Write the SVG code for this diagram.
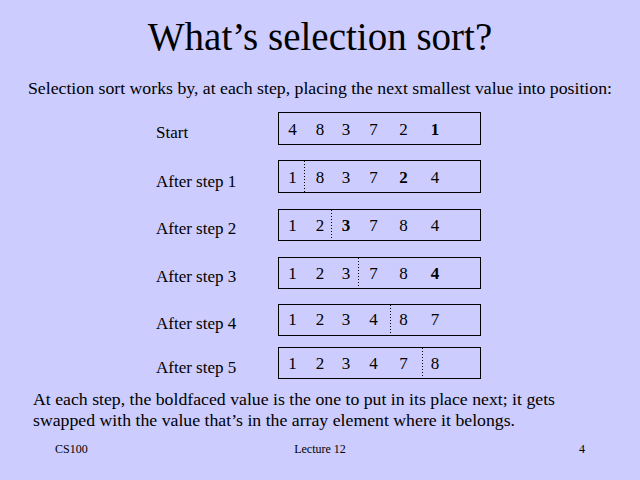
<svg xmlns="http://www.w3.org/2000/svg" width="640" height="480" viewBox="0 0 640 480">
<style>
text{fill:#000}
.lbl{font-size:17px}
.d{font-size:17px;text-anchor:middle}
.b{font-weight:bold}
.box{fill:none;stroke:#000;stroke-width:1}
.dot{stroke:#000;stroke-width:1;stroke-dasharray:1 2}
.ft{font-size:12px}
.body{font-size:17.75px}
</style>
<rect width="640" height="480" fill="#CCCCFF"/>
<g font-family="'Liberation Serif', 'Times New Roman', serif">
<text x="320" y="50" font-size="39" text-anchor="middle">What’s selection sort?</text>
<text class="body" x="320" y="94" text-anchor="middle">Selection sort works by, at each step, placing the next smallest value into position:</text>

<g id="row0">
<text class="lbl" x="156" y="137.5">Start</text>
<rect class="box" x="278.5" y="112.5" width="202" height="32"/>
<text class="d" x="292.5" y="134.5">4</text><text class="d" x="320" y="134.5">8</text><text class="d" x="346" y="134.5">3</text><text class="d" x="373.5" y="134.5">7</text><text class="d" x="403.5" y="134.5">2</text><text class="d b" x="435" y="134.5">1</text>
</g>
<g id="row1">
<text class="lbl" x="156" y="186.5">After step 1</text>
<rect class="box" x="278.5" y="160.5" width="202" height="32"/>
<line class="dot" x1="304.5" y1="161" x2="304.5" y2="192"/>
<text class="d" x="292.5" y="182.5">1</text><text class="d" x="320" y="182.5">8</text><text class="d" x="346" y="182.5">3</text><text class="d" x="373.5" y="182.5">7</text><text class="d b" x="403.5" y="182.5">2</text><text class="d" x="435" y="182.5">4</text>
</g>
<g id="row2">
<text class="lbl" x="156" y="234">After step 2</text>
<rect class="box" x="278.5" y="209.5" width="202" height="31"/>
<line class="dot" x1="331.5" y1="210" x2="331.5" y2="240"/>
<text class="d" x="292.5" y="231">1</text><text class="d" x="320" y="231">2</text><text class="d b" x="346" y="231">3</text><text class="d" x="373.5" y="231">7</text><text class="d" x="403.5" y="231">8</text><text class="d" x="435" y="231">4</text>
</g>
<g id="row3">
<text class="lbl" x="156" y="281.5">After step 3</text>
<rect class="box" x="278.5" y="257.5" width="202" height="31"/>
<line class="dot" x1="358.5" y1="258" x2="358.5" y2="288"/>
<text class="d" x="292.5" y="278.5">1</text><text class="d" x="320" y="278.5">2</text><text class="d" x="346" y="278.5">3</text><text class="d" x="373.5" y="278.5">7</text><text class="d" x="403.5" y="278.5">8</text><text class="d b" x="435" y="278.5">4</text>
</g>
<g id="row4">
<text class="lbl" x="156" y="328.5">After step 4</text>
<rect class="box" x="278.5" y="304.5" width="202" height="31"/>
<line class="dot" x1="390.5" y1="305" x2="390.5" y2="335"/>
<text class="d" x="292.5" y="325">1</text><text class="d" x="320" y="325">2</text><text class="d" x="346" y="325">3</text><text class="d" x="373.5" y="325">4</text><text class="d" x="403.5" y="325">8</text><text class="d" x="435" y="325">7</text>
</g>
<g id="row5">
<text class="lbl" x="156" y="372.5">After step 5</text>
<rect class="box" x="278.5" y="347.5" width="202" height="31"/>
<line class="dot" x1="422.5" y1="348" x2="422.5" y2="378"/>
<text class="d" x="292.5" y="368.5">1</text><text class="d" x="320" y="368.5">2</text><text class="d" x="346" y="368.5">3</text><text class="d" x="373.5" y="368.5">4</text><text class="d" x="403.5" y="368.5">7</text><text class="d" x="435" y="368.5">8</text>
</g>

<text class="body" x="33" y="405">At each step, the boldfaced value is the one to put in its place next; it gets</text>
<text class="body" x="33" y="426">swapped with the value that’s in the array element where it belongs.</text>

<text class="ft" x="55" y="453">CS100</text>
<text class="ft" x="320" y="453" text-anchor="middle">Lecture 12</text>
<text class="ft" x="582" y="453" text-anchor="middle">4</text>
</g>
</svg>
